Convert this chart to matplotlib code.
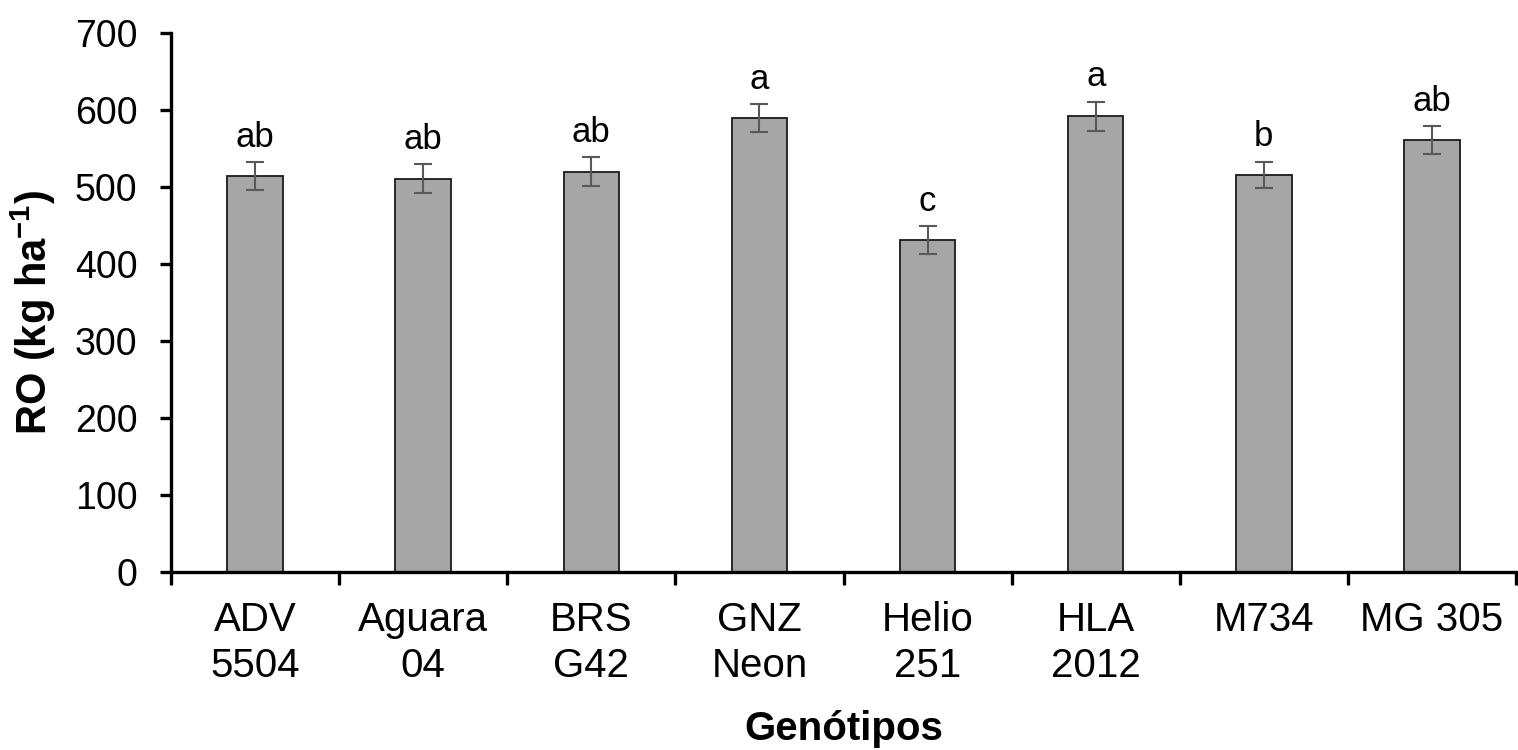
import matplotlib
matplotlib.use("Agg")
import matplotlib.pyplot as plt
import numpy as np

categories = ["ADV\n5504", "Aguara\n04", "BRS\nG42", "GNZ\nNeon", "Helio\n251", "HLA\n2012", "M734", "MG 305"]
values = [514, 511, 520, 590, 431, 592, 516, 561]
errors = [18, 19, 19, 18, 18, 19, 17, 18]
letters = ["ab", "ab", "ab", "a", "c", "a", "b", "ab"]
y_ticks = [0, 100, 200, 300, 400, 500, 600, 700]

plt.rcParams['font.family'] = ['Liberation Sans', 'DejaVu Sans']
plt.rcParams['mathtext.fontset'] = 'custom'
plt.rcParams['mathtext.rm'] = 'Liberation Sans'
plt.rcParams['mathtext.bf'] = 'Liberation Sans:bold'

fig = plt.figure(figsize=(15.18, 7.5), dpi=100)
ax = fig.add_axes([171/1518, 1-572/750, (1516-171)/1518, (572-33)/750])

x = np.arange(len(categories))
ax.bar(x, values, width=0.33, color='#a6a6a6', edgecolor='#1a1a1a', linewidth=1.3, zorder=2)
ax.errorbar(x, values, yerr=errors, fmt='none', ecolor='#595959', elinewidth=1.5,
            capsize=6.5, capthick=1.5, zorder=3)
for xi, v, e, l in zip(x, values, errors, letters):
    ax.annotate(l, (xi, v + e), xytext=(0, 6), textcoords='offset points',
                ha='center', va='bottom', fontsize=25)

ax.set_xlim(-0.5, len(categories) - 0.5)
ax.set_ylim(0, 700)
ax.set_yticks(y_ticks)
ax.set_xticks(np.arange(len(categories) + 1) - 0.5)
ax.set_xticklabels([])
ax.set_xticks(x, minor=True)
ax.set_xticklabels(categories, minor=True)

for s in ['top', 'right']:
    ax.spines[s].set_visible(False)
for s in ['left', 'bottom']:
    ax.spines[s].set_linewidth(2.4)
    ax.spines[s].set_color('black')

ax.tick_params(axis='y', which='major', direction='out', length=8, width=2.4,
               labelsize=27, pad=16)
ax.tick_params(axis='x', which='major', direction='out', length=9, width=2.4)
ax.tick_params(axis='x', which='minor', length=0, labelsize=29, pad=21)
for lab in ax.get_xticklabels(minor=True):
    lab.set_linespacing(1.25)

fig.text(33/1518, 1-312/750, r'RO (kg ha$^{\mathbf{-1}}$)', rotation=90,
         ha='center', va='center', fontsize=30, fontweight='bold')
fig.text((171 + 1516) / 2 / 1518, 1-740/750, 'Genótipos', ha='center', va='baseline',
         fontsize=29, fontweight='bold')

fig.savefig('out.png', dpi=100)
